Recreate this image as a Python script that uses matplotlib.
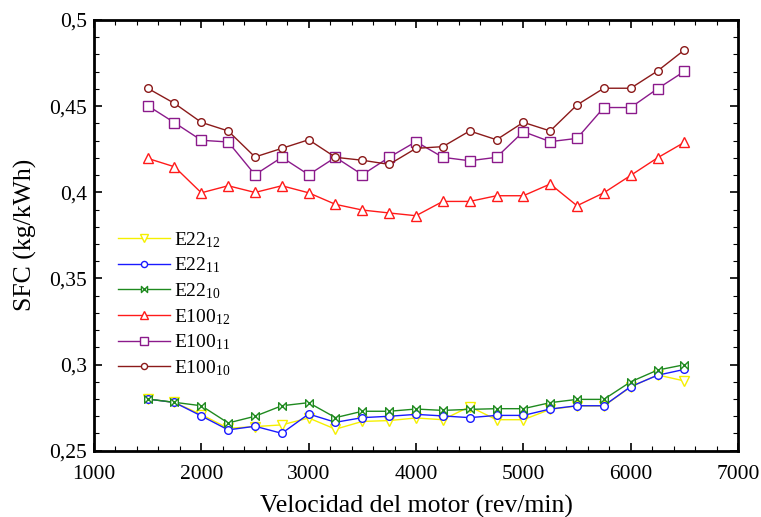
import matplotlib
matplotlib.use("Agg")
import matplotlib.pyplot as plt
from matplotlib.path import Path
from matplotlib.ticker import MultipleLocator, FuncFormatter

plt.rcParams['font.family'] = ['Liberation Serif', 'DejaVu Serif']
plt.rcParams['mathtext.fontset'] = 'custom'
plt.rcParams['mathtext.rm'] = 'Liberation Serif'

rpm = [1500, 1750, 2000, 2250, 2500, 2750, 3000, 3250, 3500, 3750, 4000,
       4250, 4500, 4750, 5000, 5250, 5500, 5750, 6000, 6250, 6500]

e22_12 = [0.280, 0.278, 0.271, 0.263, 0.264, 0.265, 0.269, 0.2625, 0.267, 0.2675, 0.269,
          0.268, 0.2756, 0.268, 0.268, 0.274, 0.276, 0.276, 0.287, 0.294, 0.2905]
e22_11 = [0.280, 0.278, 0.2702, 0.2621, 0.2642, 0.2601, 0.2713, 0.2665, 0.2692, 0.270, 0.2711,
          0.2702, 0.2692, 0.2705, 0.2705, 0.2742, 0.2761, 0.2761, 0.2872, 0.2938, 0.2972]
e22_10 = [0.280, 0.2781, 0.2761, 0.2661, 0.270, 0.2761, 0.2779, 0.2692, 0.2729, 0.2729, 0.2742,
          0.2734, 0.274, 0.2744, 0.2744, 0.2779, 0.2798, 0.2798, 0.290, 0.2968, 0.2999]
e100_12 = [0.4197, 0.4148, 0.3997, 0.4038, 0.3999, 0.4038, 0.3997, 0.393, 0.3897, 0.388, 0.3864,
           0.3947, 0.3947, 0.398, 0.398, 0.4048, 0.3922, 0.3997, 0.4098, 0.420, 0.429]
e100_11 = [0.4503, 0.4404, 0.4302, 0.4292, 0.4102, 0.4203, 0.4102, 0.4203, 0.4102, 0.4203, 0.4294,
           0.4203, 0.4183, 0.4203, 0.4352, 0.4294, 0.4313, 0.4492, 0.4492, 0.4601, 0.4702]
e100_10 = [0.4604, 0.4516, 0.4406, 0.4356, 0.4205, 0.4255, 0.4305, 0.4203, 0.4186, 0.4162, 0.4255,
           0.4265, 0.4356, 0.4305, 0.4406, 0.4356, 0.4507, 0.4604, 0.4604, 0.4704, 0.4826]

labels = ['E22$\\mathregular{_{12}}$', 'E22$\\mathregular{_{11}}$', 'E22$\\mathregular{_{10}}$',
          'E100$\\mathregular{_{12}}$', 'E100$\\mathregular{_{11}}$', 'E100$\\mathregular{_{10}}$']

bowtie = Path([(-1, -1), (-1, 1), (1, -1), (1, 1), (-1, -1)],
              [Path.MOVETO, Path.LINETO, Path.LINETO, Path.LINETO, Path.CLOSEPOLY])

series = [e22_12, e22_11, e22_10, e100_12, e100_11, e100_10]
colors = ['#f5f000', '#1a1aff', '#1f8a1f', '#ff1a1a', '#8b1a8b', '#8b1a1a']
markers = ['v', 'o', bowtie, '^', 's', 'o']
msizes = [6.5, 5.5, 5.5, 6.5, 6.5, 5.5]

fig = plt.figure(figsize=(7.61, 5.17), dpi=100)
ax = fig.add_axes([0.1235, 0.1282, 0.8463, 0.8331])

for y, c, m, ms, lab in zip(series, colors, markers, msizes, labels):
    ax.plot(rpm, y, color=c, marker=m, markersize=ms, markerfacecolor='white',
            markeredgecolor=c, markeredgewidth=1.0, linewidth=1.0, label=lab)

ax.set_xlim(1000, 7000)
ax.set_ylim(0.25, 0.5)
ax.xaxis.set_major_locator(MultipleLocator(1000))
ax.xaxis.set_minor_locator(MultipleLocator(200))
ax.yaxis.set_major_locator(MultipleLocator(0.05))
ax.yaxis.set_minor_locator(MultipleLocator(0.01))
ax.yaxis.set_major_formatter(FuncFormatter(lambda v, p: ('%g' % round(v, 4)).replace('.', ',')))

ax.tick_params(which='both', direction='in', top=True, right=True, labelsize=15.5, colors='black')
ax.tick_params(which='major', length=6, width=1.2, pad=5)
ax.tick_params(axis='x', which='major', pad=10)
ax.tick_params(which='minor', length=3.5, width=0.8)
for s in ax.spines.values():
    s.set_linewidth(2.0)

ax.set_xlabel('Velocidad del motor (rev/min)', fontsize=18.5, labelpad=8)
ax.set_ylabel('SFC (kg/kWh)', fontsize=18.5, labelpad=9)

leg = ax.legend(loc='upper left', bbox_to_anchor=(0.025, 0.53), frameon=False, fontsize=14,
                handlelength=2.7, handletextpad=0.2, labelspacing=0.3, markerscale=0.8,
                borderaxespad=0)

fig.savefig('out.png', dpi=100)
